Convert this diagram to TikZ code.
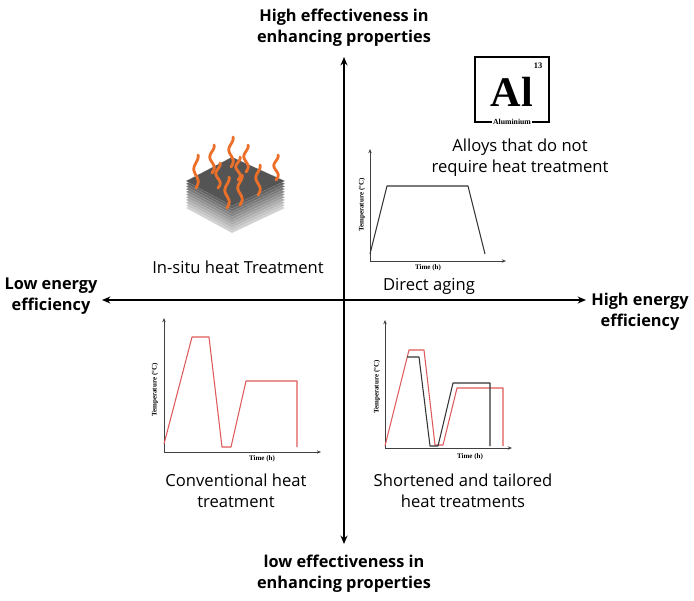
\documentclass[tikz,border=0pt]{standalone}
\usepackage{fontspec}
\setmainfont{Open Sans}
\newfontfamily\plotfont{Liberation Serif}
\usetikzlibrary{arrows.meta,positioning}
\definecolor{curvered}{RGB}{222,90,90}
\definecolor{flame}{RGB}{236,112,42}
\newcommand{\heatwave}[3]{%
  \draw[wave] plot[domain=0:1,samples=25] ({#1+2.2*sin(\x*470)},{#2-#3*\x});}

\tikzset{
  mainaxis/.style={line width=1.3pt, {Stealth[length=6pt,width=5pt]}-{Stealth[length=6pt,width=5pt]}},
  axislabel/.style={align=center, font=\bfseries\fontsize{11.6}{15.2}\selectfont},
  quadlabel/.style={align=center, font=\fontsize{11.8}{15}\selectfont},
  plotaxis/.style={line width=0.5pt, draw=black!75, -{Stealth[length=3pt,width=2.4pt]}},
  plotlabel/.style={font=\plotfont\bfseries\fontsize{5}{6}\selectfont, inner sep=0pt},
  redcurve/.style={line width=0.75pt, draw=curvered, line join=round},
  greycurve/.style={line width=0.75pt, draw=black!80, line join=round},
  wave/.style={line width=2pt, draw=flame, line cap=round},
}

\begin{document}
\begin{tikzpicture}[x=0.025cm, y=-0.025cm]
  \useasboundingbox[fill=white] (0,0) rectangle (694,600);

  % main axes
  \coordinate (west) at (102,300);
  \coordinate (east) at (586,300);
  \coordinate (north) at (344,57);
  \coordinate (south) at (344,544);
  \draw[mainaxis] (west) -- (east);
  \draw[mainaxis] (south) -- (north);

  \node[axislabel] (hieff) at (344,28) {High effectiveness in\\enhancing properties};
  \node[axislabel] (loeff) at (344,574) {low effectiveness in\\enhancing properties};
  \node[axislabel] (loen) at (51,296) {Low energy\\efficiency};
  \node[axislabel] (hien) at (640,312) {High energy\\efficiency};

  % in-situ: heated layered block
  \foreach \k in {10,...,0} {
    \pgfmathsetmacro\shade{67-4.9*\k}
    \fill[black!\shade, draw=white, draw opacity=0.45, line width=0.12pt]
      (186,{181+\k*2.7}) -- (232,{157+\k*2.7}) -- (285,{181+\k*2.7}) -- (232,{206+\k*2.7}) -- cycle;
  }
  \heatwave{196}{188}{33}
  \heatwave{212}{173}{28}
  \heatwave{231}{167}{30}
  \heatwave{246}{172}{27}
  \heatwave{276}{180}{25}
  \heatwave{218}{188}{25}
  \heatwave{238}{180}{23}
  \heatwave{227}{208}{31}
  \heatwave{240}{205}{30}
  \heatwave{258}{195}{30}
  \node[quadlabel] (insitu) at (238,267) {In-situ heat Treatment};

  % aluminium tile
  \draw[line width=0.8pt] (475,57) rectangle (549,122);
  \node[font=\plotfont\bfseries\fontsize{30}{30}\selectfont, inner sep=0pt] (alsym) at (512,92) {Al};
  \node[font=\plotfont\bfseries\fontsize{6}{6}\selectfont, inner sep=0pt] (alnum) at (538,66) {13};
  \node[font=\plotfont\bfseries\fontsize{5.5}{6}\selectfont, fill=white, inner sep=1pt] (alname) at (512,122) {Aluminium};
  \node[quadlabel] (alloys) at (520,158) {Alloys that do not\\require heat treatment};

  % direct aging plot
  \coordinate (da0) at (370,261);
  \coordinate (daT) at (370,149);
  \coordinate (dat) at (506,261);
  \draw[plotaxis] (da0) -- (daT);
  \draw[plotaxis] (da0) -- (dat);
  \draw[greycurve] (370,254) -- (387,186) -- (468,186) -- (485,254);
  \node[plotlabel, rotate=90] (datemp) at (362,205) {Temperature (°C)};
  \node[plotlabel] (datime) at (428,268) {Time (h)};
  \node[quadlabel] (direct) at (429,286) {Direct aging};

  % conventional plot
  \coordinate (cv0) at (164,452);
  \coordinate (cvT) at (164,318);
  \coordinate (cvt) at (321,452);
  \draw[plotaxis] (cv0) -- (cvT);
  \draw[plotaxis] (cv0) -- (cvt);
  \draw[redcurve] (164,444) -- (192,337) -- (209,337) -- (222,447) -- (231,447)
    -- (246,381) -- (297,381) -- (297,447);
  \node[plotlabel, rotate=90] (cvtemp) at (155,390) {Temperature (°C)};
  \node[plotlabel] (cvtime) at (262,459) {Time (h)};
  \node[quadlabel] (conv) at (236,491) {Conventional heat\\treatment};

  % shortened plot
  \coordinate (sh0) at (385,448);
  \coordinate (shT) at (385,320);
  \coordinate (sht) at (512,448);
  \draw[plotaxis] (sh0) -- (shT);
  \draw[plotaxis] (sh0) -- (sht);
  \draw[redcurve] (385,446) -- (409,350) -- (424,350) -- (435,445) -- (443,445)
    -- (457,388) -- (503,388) -- (503,446);
  \draw[greycurve] (407,357) -- (419,357) -- (430,446) -- (438,446)
    -- (453,383) -- (490,383) -- (490,446);
  \node[plotlabel, rotate=90] (shtemp) at (377,387) {Temperature (°C)};
  \node[plotlabel] (shtime) at (470,457) {Time (h)};
  \node[quadlabel] (short) at (463,491) {Shortened and tailored\\heat treatments};
\end{tikzpicture}
\end{document}
